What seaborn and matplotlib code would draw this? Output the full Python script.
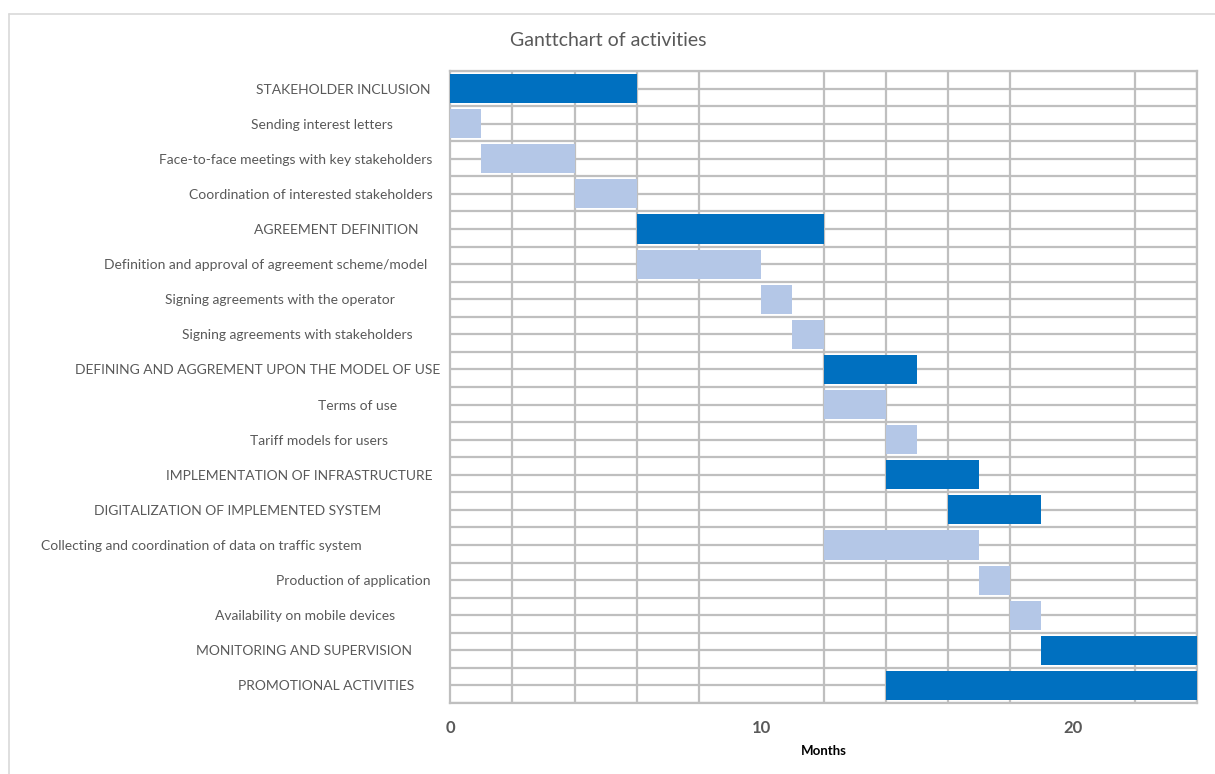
import matplotlib
matplotlib.use("Agg")
import matplotlib.pyplot as plt
import matplotlib.transforms as mtransforms
from matplotlib.lines import Line2D
from matplotlib.ticker import MultipleLocator, FixedLocator
import seaborn as sns
import pandas as pd

tasks = [
    "STAKEHOLDER INCLUSION",
    "Sending interest letters",
    "Face-to-face meetings with key stakeholders",
    "Coordination of interested stakeholders",
    "AGREEMENT DEFINITION",
    "Definition and approval of agreement scheme/model",
    "Signing agreements with the operator",
    "Signing agreements with stakeholders",
    "DEFINING AND AGGREMENT UPON THE MODEL OF USE",
    "Terms of use",
    "Tariff models for users",
    "IMPLEMENTATION OF INFRASTRUCTURE",
    "DIGITALIZATION OF IMPLEMENTED SYSTEM",
    "Collecting and coordination of data on traffic system",
    "Production of application",
    "Availability on mobile devices",
    "MONITORING AND SUPERVISION",
    "PROMOTIONAL ACTIVITIES",
]
start = [0, 0, 1, 4, 6, 6, 10, 11, 12, 12, 14, 14, 16, 12, 17, 18, 19, 14]
duration = [6, 1, 3, 2, 6, 4, 1, 1, 3, 2, 1, 3, 3, 5, 1, 1, 5, 10]
is_phase = [True, False, False, False, True, False, False, False, True, False,
            False, True, True, False, False, False, True, True]

# layout: pixel gap between each label's right edge and the axis
label_gap_px = [20, 57, 18, 17, 32, 23, 55, 37, 10, 53, 62, 17, 69, 88, 20, 55, 38, 36]

DARK = "#0070C0"
LIGHT = "#B4C7E7"
GRID = "#BFBFBF"
TEXT = "#595959"

df = pd.DataFrame({"task": tasks, "start": start, "duration": duration})

sns.set_theme(style="white")
plt.rcParams["font.family"] = ["Lato", "DejaVu Sans"]

fig = plt.figure(figsize=(12.15, 7.74), dpi=100)
ax = fig.add_axes([450 / 1215, 1 - 703 / 774, (1197 - 450) / 1215, (703 - 71) / 774])

palette = [DARK if p else LIGHT for p in is_phase]
sns.barplot(data=df, x="duration", y="task", hue="task", palette=palette,
            legend=False, orient="h", width=0.83, saturation=1, ax=ax, zorder=3)

for patch, s in zip(ax.patches, start):
    patch.set_x(s)
    patch.set_linewidth(0)

ax.set_xlim(0, 24)
ax.set_ylim(len(tasks) - 0.5, -0.5)

# gridlines: vertical every 2 months, horizontal at row boundaries and centres
ax.xaxis.set_major_locator(FixedLocator([0, 10, 20]))
ax.xaxis.set_minor_locator(MultipleLocator(2))
ax.set_yticks(range(len(tasks)))
ax.yaxis.set_minor_locator(FixedLocator([i + 0.5 for i in range(-1, len(tasks))]))
ax.grid(False)
ax.grid(True, which="minor", axis="x", color=GRID, linewidth=1.6, zorder=0)
ax.grid(True, which="both", axis="y", color=GRID, linewidth=1.6, zorder=0)
ax.set_axisbelow(True)
ax.tick_params(which="both", length=0)

for sp in ax.spines.values():
    sp.set_visible(True)
    sp.set_color(GRID)
    sp.set_linewidth(1.6)

ax.set_yticklabels(tasks, fontsize=10, color=TEXT)
ax.tick_params(axis="y", pad=0)
for lab, g in zip(ax.get_yticklabels(), label_gap_px):
    lab.set_transform(lab.get_transform() +
                      mtransforms.ScaledTranslation(-g / 100, 0, fig.dpi_scale_trans))

ax.set_xticklabels(["0", "10", "20"], fontsize=12, fontweight="bold", color=TEXT)
ax.tick_params(axis="x", pad=12)
ax.set_xlabel("Months", fontsize=9.5, fontweight="bold", color="black", labelpad=7)
ax.set_ylabel("")

fig.text(608 / 1215, 1 - 40 / 774, "Ganttchart of activities", ha="center", va="center",
         fontsize=14, color=TEXT)

# chart-area border
fig.add_artist(Line2D([9 / 1215, 9 / 1215], [0, 1 - 14 / 774], color="#D9D9D9",
                      linewidth=1.2, transform=fig.transFigure))
fig.add_artist(Line2D([9 / 1215, 1], [1 - 14 / 774, 1 - 14 / 774], color="#D9D9D9",
                      linewidth=1.2, transform=fig.transFigure))

fig.savefig("out.png", dpi=100)
